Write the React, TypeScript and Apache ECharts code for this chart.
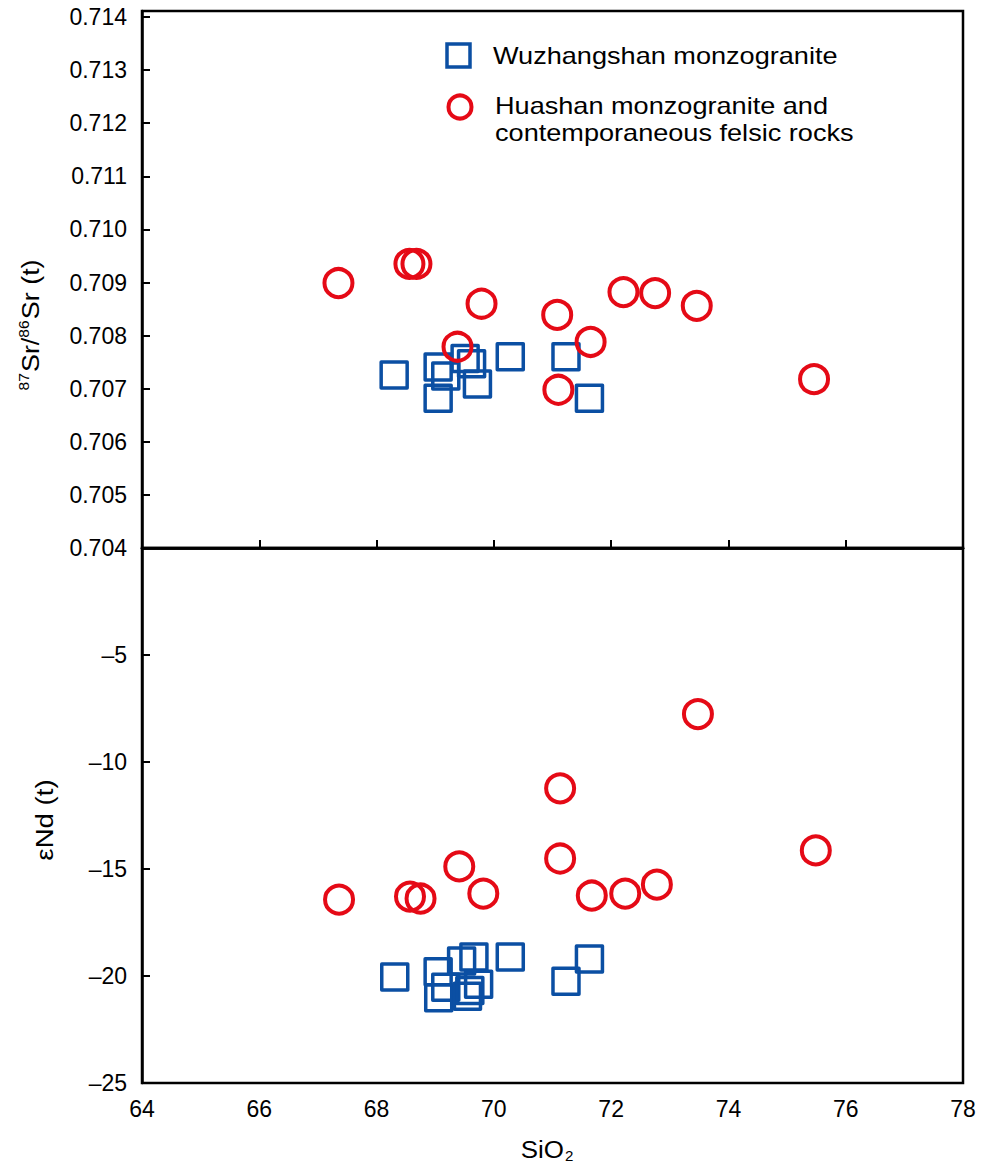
import React, { useEffect, useRef } from 'react';
import * as echarts from 'echarts';

// ---- data ----
const xTicks = [64, 66, 68, 70, 72, 74, 76, 78];
const srTickLabels = ['0.704', '0.705', '0.706', '0.707', '0.708', '0.709', '0.710', '0.711', '0.712', '0.713', '0.714'];
const ndTickLabels = ['–25', '–20', '–15', '–10', '–5'];

const seriesNames = ['Wuzhangshan monzogranite', 'Huashan monzogranite and', 'contemporaneous felsic rocks'];

// Sr isotopes vs SiO2
const wuzhangSr: [number, number][] = [
  [68.30, 0.70726],
  [69.05, 0.70741],
  [69.05, 0.70682],
  [69.18, 0.70724],
  [69.51, 0.70757],
  [69.62, 0.70747],
  [69.72, 0.70709],
  [70.28, 0.70760],
  [71.23, 0.70760],
  [71.63, 0.70682],
];
const huashanSr: [number, number][] = [
  [67.35, 0.70899],
  [68.56, 0.70935],
  [68.68, 0.70935],
  [69.38, 0.70779],
  [69.79, 0.70860],
  [71.08, 0.70839],
  [71.65, 0.70788],
  [72.21, 0.70882],
  [72.75, 0.70880],
  [73.46, 0.70856],
  [71.10, 0.70698],
  [75.46, 0.70718],
];

// eNd(t) vs SiO2
const wuzhangNd: [number, number][] = [
  [68.31, -20.05],
  [69.05, -19.80],
  [69.45, -19.30],
  [69.66, -19.11],
  [70.28, -19.11],
  [69.18, -20.52],
  [69.06, -21.02],
  [69.55, -20.95],
  [69.74, -20.39],
  [69.59, -20.68],
  [71.23, -20.24],
  [71.63, -19.20],
];
const huashanNd: [number, number][] = [
  [67.36, -16.43],
  [68.57, -16.29],
  [68.75, -16.38],
  [69.41, -14.88],
  [69.82, -16.15],
  [71.13, -11.23],
  [71.13, -14.51],
  [71.67, -16.24],
  [72.24, -16.15],
  [72.78, -15.73],
  [73.48, -7.76],
  [75.49, -14.13],
];

const BLUE = '#0b4fa3';
const RED = '#e50a16';
const FONT = '"Liberation Sans", Arial, sans-serif';

export default function App() {
  const ref = useRef<HTMLDivElement>(null);

  useEffect(() => {
    if (!ref.current) return;
    const chart = echarts.init(ref.current, null, { renderer: 'svg' });

    const axisLine = { show: true, lineStyle: { color: '#000', width: 2.5 } };
    const axisTick = { show: true, inside: true, length: 8, lineStyle: { color: '#000', width: 2 } };
    const labelStyle = { color: '#000', fontSize: 23, fontFamily: FONT };

    const srLabel = (v: number) => {
      const k = Math.round((v - 0.704) * 1000);
      if (Math.abs((v - 0.704) * 1000 - k) > 0.01) return '';
      return srTickLabels[k] ?? '';
    };
    const ndLabel = (v: number) => {
      const k = Math.round((v + 25) / 5);
      if (Math.abs((v + 25) / 5 - k) > 0.01) return '';
      return ndTickLabels[k] ?? '';
    };
    const xLabel = (v: number) => {
      const i = xTicks.indexOf(Math.round(v * 1000) / 1000);
      return i >= 0 ? String(xTicks[i]) : '';
    };

    const squareStyle = { color: 'rgba(0,0,0,0)', borderColor: BLUE, borderWidth: 3.5, borderJoin: 'round' as const, opacity: 1 };
    const circleStyle = { color: 'rgba(0,0,0,0)', borderColor: RED, borderWidth: 4, opacity: 1 };

    chart.setOption({
      animation: false,
      backgroundColor: '#fff',
      grid: [
        { left: 142, top: 11, width: 821, height: 537, show: true, borderColor: '#000', borderWidth: 2.5, backgroundColor: 'transparent' },
        { left: 142, top: 548, width: 821, height: 535, show: true, borderColor: '#000', borderWidth: 2.5, backgroundColor: 'transparent' },
      ],
      xAxis: [
        {
          gridIndex: 0, type: 'value', min: 64, max: 78, interval: 2,
          axisLine, axisTick, axisLabel: { show: false }, splitLine: { show: false },
        },
        {
          gridIndex: 1, type: 'value', min: 64, max: 78, interval: 2,
          axisLine, axisTick,
          axisLabel: { ...labelStyle, margin: 14, formatter: xLabel },
          splitLine: { show: false },
        },
      ],
      yAxis: [
        {
          gridIndex: 0, type: 'value', min: 0.704, max: 0.714113, interval: 0.001,
          axisLine, axisTick,
          axisLabel: { ...labelStyle, margin: 15, formatter: srLabel },
          splitLine: { show: false },
        },
        {
          gridIndex: 1, type: 'value', min: -25, max: 0, interval: 5,
          axisLine, axisTick,
          axisLabel: { ...labelStyle, margin: 15, formatter: ndLabel },
          splitLine: { show: false },
        },
      ],
      series: [
        { name: seriesNames[0], type: 'scatter', xAxisIndex: 0, yAxisIndex: 0, data: wuzhangSr, symbol: 'rect', symbolSize: 26, itemStyle: squareStyle },
        { name: seriesNames[1], type: 'scatter', xAxisIndex: 0, yAxisIndex: 0, data: huashanSr, symbol: 'circle', symbolSize: 28, itemStyle: circleStyle },
        { name: seriesNames[0], type: 'scatter', xAxisIndex: 1, yAxisIndex: 1, data: wuzhangNd, symbol: 'rect', symbolSize: 26, itemStyle: squareStyle },
        { name: seriesNames[1], type: 'scatter', xAxisIndex: 1, yAxisIndex: 1, data: huashanNd, symbol: 'circle', symbolSize: 28, itemStyle: circleStyle },
      ],
      graphic: [
        // legend
        { type: 'rect', shape: { x: 447, y: 44, width: 23, height: 23 }, style: { fill: 'none', stroke: BLUE, lineWidth: 3.5 } },
        { type: 'circle', shape: { cx: 460, cy: 107, r: 11.5 }, style: { fill: 'none', stroke: RED, lineWidth: 4 } },
        { type: 'text', x: 493, y: 56, scaleX: 1.13, style: { text: seriesNames[0], font: `24px ${FONT}`, fill: '#000', verticalAlign: 'middle', align: 'left' } },
        { type: 'text', x: 495, y: 106, scaleX: 1.13, style: { text: seriesNames[1], font: `24px ${FONT}`, fill: '#000', verticalAlign: 'middle', align: 'left' } },
        { type: 'text', x: 495, y: 133, scaleX: 1.13, style: { text: seriesNames[2], font: `24px ${FONT}`, fill: '#000', verticalAlign: 'middle', align: 'left' } },
        // y titles
        {
          type: 'text', x: 31, y: 325, rotation: Math.PI / 2, scaleX: 1.12,
          style: {
            text: '{sup|87}{n|Sr/}{sup|86}{n|Sr (t)}',
            align: 'center', verticalAlign: 'middle', fill: '#000',
            rich: {
              n: { fontSize: 24, fontFamily: FONT, lineHeight: 28, fill: '#000' },
              sup: { fontSize: 14, fontFamily: FONT, lineHeight: 28, verticalAlign: 'top', padding: [0, 1, 0, 0], fill: '#000' },
            },
          },
        },
        {
          type: 'text', x: 45, y: 820, rotation: Math.PI / 2, scaleX: 1.15,
          style: { text: 'εNd (t)', font: `24px ${FONT}`, fill: '#000', align: 'center', verticalAlign: 'middle' },
        },
        // x title
        {
          type: 'text', x: 547, y: 1149, scaleX: 1.08,
          style: {
            text: '{n|SiO}{sub|2}',
            align: 'center', verticalAlign: 'middle', fill: '#000',
            rich: {
              n: { fontSize: 24, fontFamily: FONT, lineHeight: 28, fill: '#000' },
              sub: { fontSize: 14, fontFamily: FONT, lineHeight: 28, verticalAlign: 'bottom', padding: [0, 0, 0, 1], fill: '#000' },
            },
          },
        },
      ],
    });

    return () => chart.dispose();
  }, []);

  return <div ref={ref} style={{ position: 'absolute', left: 0, top: 0, width: 992, height: 1167 }} />;
}
